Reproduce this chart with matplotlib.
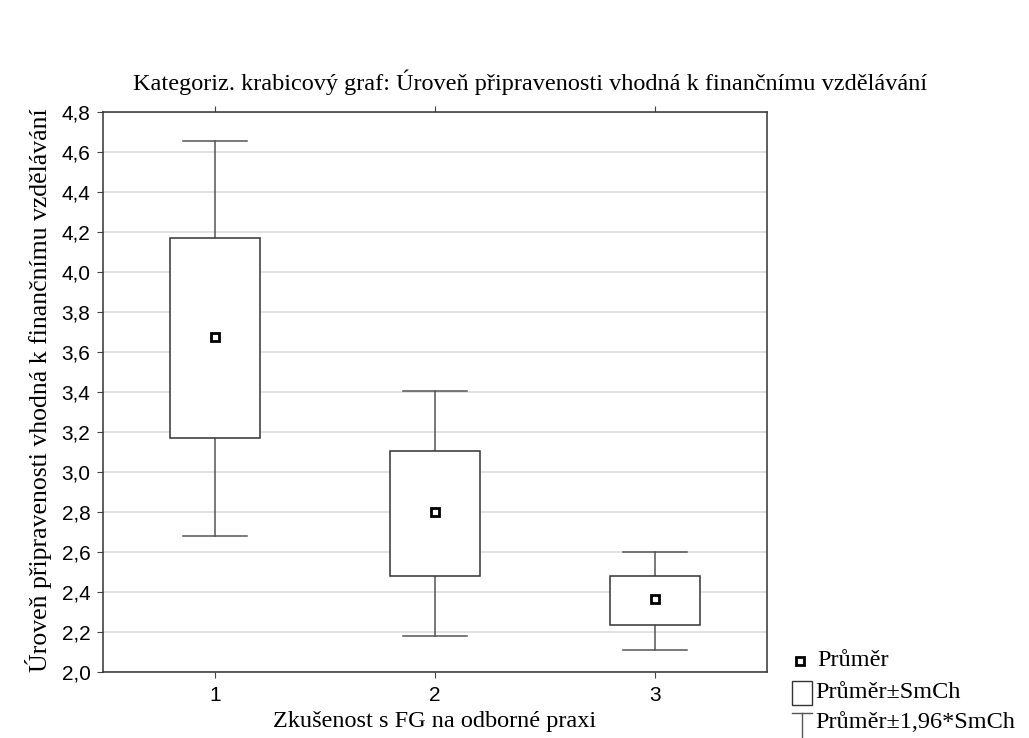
import matplotlib.pyplot as plt
from matplotlib.lines import Line2D
from matplotlib.patches import Rectangle

# values
groups = [1, 2, 3]
means = [3.675, 2.80, 2.365]
se_low = [3.17, 2.48, 2.235]
se_high = [4.17, 3.105, 2.48]
ci_low = [2.68, 2.18, 2.11]
ci_high = [4.655, 3.405, 2.60]
yticks = [2.0, 2.2, 2.4, 2.6, 2.8, 3.0, 3.2, 3.4, 3.6, 3.8, 4.0, 4.2, 4.4, 4.6, 4.8]

serif = "Liberation Serif"
sans = "Liberation Sans"
W, H = 1029, 738

fig = plt.figure(figsize=(10.29, 7.38), dpi=100)
ax = fig.add_axes([103 / W, 1 - 672 / H, 664 / W, 560 / H])

box_w = 0.41
cap_w = 0.29
for g, m, lo, hi, wl, wh in zip(groups, means, se_low, se_high, ci_low, ci_high):
    ax.plot([g, g], [hi, wh], color="#555555", lw=1.1, zorder=2)
    ax.plot([g, g], [wl, lo], color="#555555", lw=1.1, zorder=2)
    ax.plot([g - cap_w / 2, g + cap_w / 2], [wh, wh], color="#555555", lw=1.1, zorder=2)
    ax.plot([g - cap_w / 2, g + cap_w / 2], [wl, wl], color="#555555", lw=1.1, zorder=2)
    ax.add_patch(Rectangle((g - box_w / 2, lo), box_w, hi - lo, facecolor="white",
                           edgecolor="#333333", lw=1.1, zorder=3))
ax.plot(groups, means, ls="none", marker="s", ms=6, mfc="white", mec="black", mew=2, zorder=4)

ax.set_xlim(0.49, 3.51)
ax.set_ylim(2.0, 4.8)
ax.set_xticks(groups)
ax.set_yticks(yticks)
ax.set_yticklabels([f"{v:.1f}".replace(".", ",") for v in yticks])
ax.grid(axis="y", color="#dddddd", lw=1.2)
ax.set_axisbelow(True)
ax.tick_params(axis="both", labelsize=15, length=4, color="#444444", top=True, direction="out")
ax.tick_params(axis="x", pad=6)
ax.tick_params(axis="y", pad=5)
for lab in ax.get_xticklabels() + ax.get_yticklabels():
    lab.set_fontfamily(sans)
for s in ax.spines.values():
    s.set_color("#333333")
    s.set_linewidth(1.1)

fig.text(530 / W, 1 - 82 / H,
         "Kategoriz. krabicový graf: Úroveň připravenosti vhodná k finančnímu vzdělávání",
         fontfamily=serif, fontsize=17.5, ha="center", va="center")
fig.text(435 / W, 1 - 722 / H, "Zkušenost s FG na odborné praxi", fontfamily=serif,
         fontsize=17.5, ha="center", va="center")
fig.text(39 / W, 1 - 390 / H, "Úroveň připravenosti vhodná k finančnímu vzdělávání",
         fontfamily=serif, fontsize=18.5, ha="center", va="center", rotation=90)

# legend drawn at the bottom right of the figure
fig.add_artist(Line2D([800 / W], [1 - 661 / H], transform=fig.transFigure, marker="s",
                      ms=6, mfc="white", mec="black", mew=2, ls="none"))
fig.text(817 / W, 1 - 661 / H, "Průměr", fontfamily=serif, fontsize=17.5, va="center")
fig.add_artist(Rectangle((792 / W, 1 - 705 / H), 20 / W, 24 / H, transform=fig.transFigure,
                         facecolor="white", edgecolor="#333333", lw=1))
fig.text(815 / W, 1 - 692 / H, "Průměr±SmCh", fontfamily=serif, fontsize=17.5, va="center")
fig.add_artist(Line2D([792 / W, 812 / W], [1 - 713 / H, 1 - 713 / H],
                      transform=fig.transFigure, color="#555555", lw=1))
fig.add_artist(Line2D([802 / W, 802 / W], [1 - 713 / H, 0],
                      transform=fig.transFigure, color="#555555", lw=1))
fig.text(815 / W, 1 - 723 / H, "Průměr±1,96*SmCh", fontfamily=serif, fontsize=17.5, va="center")

fig.savefig("out.png", dpi=100)
